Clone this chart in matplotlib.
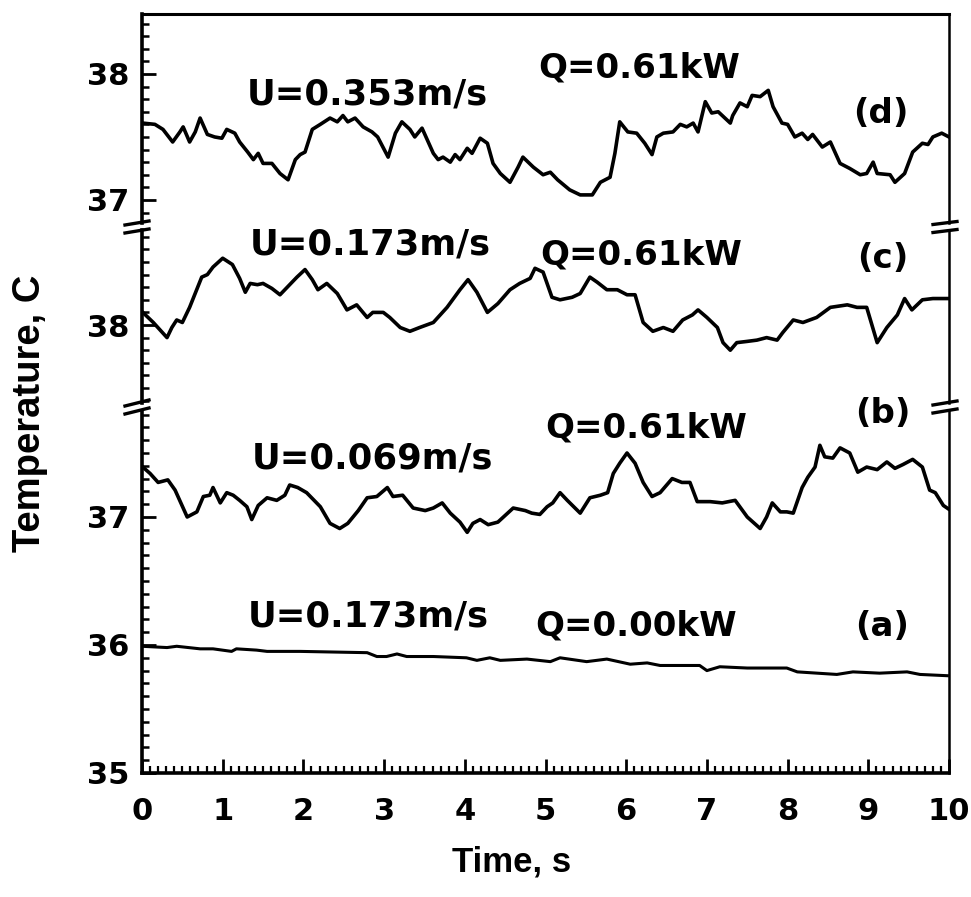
import matplotlib
matplotlib.use("Agg")
import matplotlib.pyplot as plt
from matplotlib.ticker import MultipleLocator
from matplotlib.lines import Line2D

# ---------------- data ----------------
t_d = [0.01, 0.16, 0.26, 0.38, 0.47, 0.51, 0.59, 0.66, 0.72, 0.81, 0.90, 0.99, 1.05, 1.15, 1.21,
       1.31, 1.38, 1.44, 1.50, 1.61, 1.71, 1.81, 1.90, 1.96, 2.02, 2.11, 2.21, 2.33, 2.42, 2.49,
       2.55, 2.64, 2.74, 2.85, 2.92, 3.05, 3.14, 3.22, 3.32, 3.38, 3.47, 3.61, 3.67, 3.73, 3.82,
       3.88, 3.94, 4.03, 4.09, 4.19, 4.28, 4.35, 4.44, 4.56, 4.66, 4.72, 4.85, 4.97, 5.06, 5.15,
       5.30, 5.43, 5.58, 5.68, 5.80, 5.86, 5.92, 6.02, 6.13, 6.23, 6.32, 6.38, 6.46, 6.58, 6.67,
       6.75, 6.83, 6.89, 6.98, 7.06, 7.14, 7.29, 7.32, 7.41, 7.50, 7.56, 7.66, 7.76, 7.82, 7.93,
       8.00, 8.09, 8.18, 8.25, 8.31, 8.43, 8.53, 8.65, 8.77, 8.90, 8.98, 9.06, 9.11, 9.27, 9.33,
       9.45, 9.55, 9.67, 9.74, 9.80, 9.91, 10.0]
T_d = [37.61, 37.60, 37.56, 37.46, 37.54, 37.58, 37.46, 37.54, 37.65, 37.52, 37.50, 37.49, 37.56, 37.53, 37.46,
       37.38, 37.32, 37.37, 37.29, 37.29, 37.21, 37.16, 37.32, 37.36, 37.38, 37.56, 37.60, 37.65, 37.62, 37.67,
       37.62, 37.65, 37.58, 37.54, 37.50, 37.34, 37.53, 37.62, 37.56, 37.50, 37.57, 37.37, 37.32, 37.34, 37.30,
       37.36, 37.32, 37.41, 37.37, 37.49, 37.45, 37.29, 37.21, 37.14, 37.26, 37.34, 37.26, 37.20, 37.22, 37.16,
       37.08, 37.04, 37.04, 37.14, 37.18, 37.37, 37.62, 37.54, 37.53, 37.45, 37.36, 37.50, 37.53, 37.54, 37.60,
       37.58, 37.61, 37.54, 37.78, 37.69, 37.70, 37.61, 37.67, 37.77, 37.74, 37.83, 37.82, 37.87, 37.74, 37.61,
       37.60, 37.50, 37.53, 37.48, 37.52, 37.42, 37.46, 37.29, 37.25, 37.20, 37.21, 37.30, 37.21, 37.20, 37.14,
       37.21, 37.38, 37.45, 37.44, 37.50, 37.53, 37.50]

t_c = [0.01, 0.14, 0.31, 0.37, 0.43, 0.50, 0.59, 0.74, 0.81, 0.88, 1.00, 1.12, 1.21, 1.28, 1.34,
       1.43, 1.50, 1.61, 1.71, 1.80, 1.92, 2.02, 2.11, 2.18, 2.29, 2.42, 2.54, 2.66, 2.79, 2.86,
       2.99, 3.07, 3.20, 3.32, 3.44, 3.61, 3.78, 3.94, 4.04, 4.15, 4.28, 4.41, 4.56, 4.68, 4.81,
       4.87, 4.97, 5.08, 5.18, 5.33, 5.43, 5.55, 5.64, 5.76, 5.89, 6.01, 6.11, 6.21, 6.33, 6.46,
       6.58, 6.70, 6.82, 6.89, 7.00, 7.13, 7.20, 7.29, 7.37, 7.50, 7.62, 7.74, 7.87, 7.94, 8.07,
       8.19, 8.36, 8.53, 8.74, 8.86, 8.98, 9.11, 9.23, 9.36, 9.45, 9.54, 9.67, 9.80, 10.0]
T_c = [38.10, 38.02, 37.90, 37.98, 38.04, 38.02, 38.14, 38.38, 38.40, 38.46, 38.53, 38.48, 38.37, 38.26, 38.33,
       38.32, 38.33, 38.29, 38.24, 38.30, 38.38, 38.44, 38.36, 38.28, 38.33, 38.25, 38.12, 38.16, 38.06, 38.10,
       38.10, 38.06, 37.98, 37.95, 37.98, 38.02, 38.14, 38.28, 38.36, 38.26, 38.10, 38.17, 38.28, 38.33, 38.37,
       38.45, 38.42, 38.22, 38.20, 38.22, 38.25, 38.38, 38.34, 38.28, 38.28, 38.24, 38.24, 38.02, 37.95, 37.98,
       37.95, 38.04, 38.08, 38.12, 38.06, 37.98, 37.86, 37.80, 37.86, 37.87, 37.88, 37.90, 37.88, 37.94, 38.04,
       38.02, 38.06, 38.14, 38.16, 38.14, 38.14, 37.86, 37.98, 38.08, 38.21, 38.12, 38.20, 38.21, 38.21]

t_b = [0.01, 0.10, 0.20, 0.32, 0.41, 0.56, 0.68, 0.76, 0.84, 0.88, 0.97, 1.05, 1.13, 1.21, 1.30,
       1.36, 1.44, 1.55, 1.67, 1.77, 1.83, 1.93, 2.04, 2.21, 2.33, 2.45, 2.55, 2.68, 2.79, 2.91,
       3.04, 3.11, 3.23, 3.36, 3.51, 3.61, 3.72, 3.82, 3.94, 4.03, 4.10, 4.19, 4.29, 4.41, 4.60,
       4.75, 4.83, 4.93, 5.02, 5.09, 5.18, 5.27, 5.43, 5.55, 5.68, 5.77, 5.84, 5.92, 6.01, 6.11,
       6.21, 6.32, 6.42, 6.57, 6.69, 6.79, 6.88, 7.04, 7.19, 7.35, 7.50, 7.66, 7.74, 7.81, 7.91,
       7.99, 8.07, 8.18, 8.25, 8.34, 8.40, 8.46, 8.56, 8.65, 8.77, 8.87, 8.98, 9.11, 9.23, 9.33,
       9.43, 9.55, 9.67, 9.76, 9.83, 9.93, 10.0]
T_b = [37.39, 37.34, 37.27, 37.29, 37.21, 37.00, 37.04, 37.16, 37.17, 37.23, 37.11, 37.19, 37.17, 37.13, 37.08,
       36.98, 37.09, 37.15, 37.13, 37.17, 37.25, 37.23, 37.19, 37.08, 36.95, 36.91, 36.95, 37.05, 37.15, 37.16,
       37.23, 37.16, 37.17, 37.07, 37.05, 37.07, 37.11, 37.03, 36.96, 36.88, 36.95, 36.98, 36.94, 36.96, 37.07,
       37.05, 37.03, 37.02, 37.08, 37.11, 37.19, 37.13, 37.03, 37.15, 37.17, 37.19, 37.34, 37.42, 37.50, 37.42,
       37.27, 37.16, 37.19, 37.30, 37.27, 37.27, 37.12, 37.12, 37.11, 37.13, 37.00, 36.91, 37.00, 37.11, 37.04,
       37.04, 37.03, 37.23, 37.31, 37.39, 37.56, 37.47, 37.46, 37.54, 37.50, 37.35, 37.39, 37.37, 37.43, 37.38,
       37.41, 37.45, 37.39, 37.21, 37.19, 37.09, 37.06]

t_a = [0.00, 0.31, 0.43, 0.72, 0.88, 1.11, 1.17, 1.42, 1.55, 1.96, 2.79, 2.91, 3.03, 3.16, 3.28,
       3.61, 4.02, 4.15, 4.31, 4.44, 4.77, 5.06, 5.18, 5.51, 5.76, 6.05, 6.26, 6.42, 6.91, 7.00,
       7.16, 7.50, 7.99, 8.12, 8.61, 8.81, 9.14, 9.48, 9.64, 9.98]
T_a = [35.99, 35.98, 35.99, 35.97, 35.97, 35.95, 35.97, 35.96, 35.95, 35.95, 35.94, 35.91, 35.91, 35.93, 35.91,
       35.91, 35.90, 35.88, 35.90, 35.88, 35.89, 35.87, 35.90, 35.87, 35.89, 35.85, 35.86, 35.84, 35.84, 35.80,
       35.83, 35.82, 35.82, 35.79, 35.77, 35.79, 35.78, 35.79, 35.77, 35.76]

x_ticks = [0, 1, 2, 3, 4, 5, 6, 7, 8, 9, 10]
labels_U = ["U=0.353m/s", "U=0.173m/s", "U=0.069m/s", "U=0.173m/s"]
labels_Q = ["Q=0.61kW", "Q=0.61kW", "Q=0.61kW", "Q=0.00kW"]
labels_case = ["(d)", "(c)", "(b)", "(a)"]

# ---------------- figure ----------------
W, H = 971, 897
fig = plt.figure(figsize=(W / 100, H / 100), dpi=100)
fig.patch.set_facecolor("white")

def fx(px):
    return px / W

def fy(py):
    return 1 - py / H

x_left, x_right = 142, 949

def make_ax(top_px, bot_px):
    return fig.add_axes([fx(x_left), fy(bot_px), fx(x_right) - fx(x_left), (bot_px - top_px) / H])

ax_d = make_ax(14, 223)
ax_c = make_ax(230, 403)
ax_ba = make_ax(411, 773)

tick_font = dict(family="DejaVu Sans", weight="bold", size=22)
lw = 2.6

for ax in (ax_d, ax_c, ax_ba):
    ax.set_xlim(0, 10)
    ax.set_facecolor("none")
    for s in ("top", "bottom"):
        ax.spines[s].set_visible(False)
    ax.spines["left"].set_linewidth(2.6)
    ax.spines["right"].set_linewidth(1.8)
    ax.yaxis.set_major_locator(MultipleLocator(1))
    ax.yaxis.set_minor_locator(MultipleLocator(0.1))
    ax.tick_params(axis="y", which="major", direction="in", length=10, width=2.0,
                   pad=9, right=False)
    ax.tick_params(axis="y", which="minor", direction="in", length=5, width=1.8, right=False)
    ax.tick_params(axis="x", which="both", bottom=False, top=False, labelbottom=False)

ax_d.set_ylim(36.817, 38.476)
ax_c.set_ylim(37.381, 38.754)
ax_ba.set_ylim(35.0, 37.828)
ax_d.spines["top"].set_visible(True)
ax_d.spines["top"].set_linewidth(2.2)
ax_ba.spines["bottom"].set_visible(True)
ax_ba.spines["bottom"].set_linewidth(2.6)

ax_d.set_yticks([37, 38])
ax_c.set_yticks([38])
ax_ba.set_yticks([35, 36, 37])
for ax in (ax_d, ax_c, ax_ba):
    ax.set_yticklabels([str(int(v)) for v in ax.get_yticks()], **tick_font)

ax_ba.xaxis.set_major_locator(MultipleLocator(1))
ax_ba.xaxis.set_minor_locator(MultipleLocator(0.1))
ax_ba.tick_params(axis="x", which="major", bottom=True, labelbottom=True, direction="in",
                  length=10, width=2.0, pad=17)
ax_ba.tick_params(axis="x", which="minor", bottom=True, direction="in", length=5, width=1.6)
ax_ba.set_xticks(x_ticks)
ax_ba.set_xticklabels([str(v) for v in x_ticks], **tick_font)

ax_d.plot(t_d, T_d, color="black", lw=lw, solid_joinstyle="round")
ax_c.plot(t_c, T_c, color="black", lw=lw, solid_joinstyle="round")
ax_ba.plot(t_b, T_b, color="black", lw=lw, solid_joinstyle="round")
ax_ba.plot(t_a, T_a, color="black", lw=2.2, solid_joinstyle="round")

# break marks
def brk(xc, y1, y2, rise):
    for y in (y1, y2):
        fig.add_artist(Line2D([fx(xc - 12), fx(xc + 12)], [fy(y + rise / 2), fy(y - rise / 2)],
                              color="black", lw=2.4, transform=fig.transFigure))

brk(137, 223, 231, 4)
brk(137, 403, 411, 6)
brk(945, 223, 231, 3)
brk(945, 403, 411, 4)

# annotations
U_font = dict(family="DejaVu Sans", weight="bold", size=25.5)
Q_font = dict(family="DejaVu Sans", weight="bold", size=24.5)
U_pos = [(247, 94), (250, 244), (252, 458), (248, 616)]
Q_pos = [(538, 68), (540, 255), (545, 428), (535, 626)]
C_pos = [(853, 113), (857, 258), (855, 413), (855, 627)]
for lab, (px, py) in zip(labels_U, U_pos):
    fig.text(fx(px), fy(py), lab, ha="left", va="center", **U_font)
for lab, (px, py) in zip(labels_Q, Q_pos):
    fig.text(fx(px), fy(py), lab, ha="left", va="center", **Q_font)
for lab, (px, py) in zip(labels_case, C_pos):
    fig.text(fx(px), fy(py), lab, ha="left", va="center", **Q_font)

lab_font = dict(family="Liberation Sans", weight="bold")
fig.text(fx(30), fy(413), "Temperature, C", rotation=90, ha="center", va="center",
         size=27.5, **lab_font)
fig.text(fx(512), fy(862), "Time, s", ha="center", va="center", size=25, **lab_font)

fig.savefig("out.png", dpi=100, facecolor="white")
